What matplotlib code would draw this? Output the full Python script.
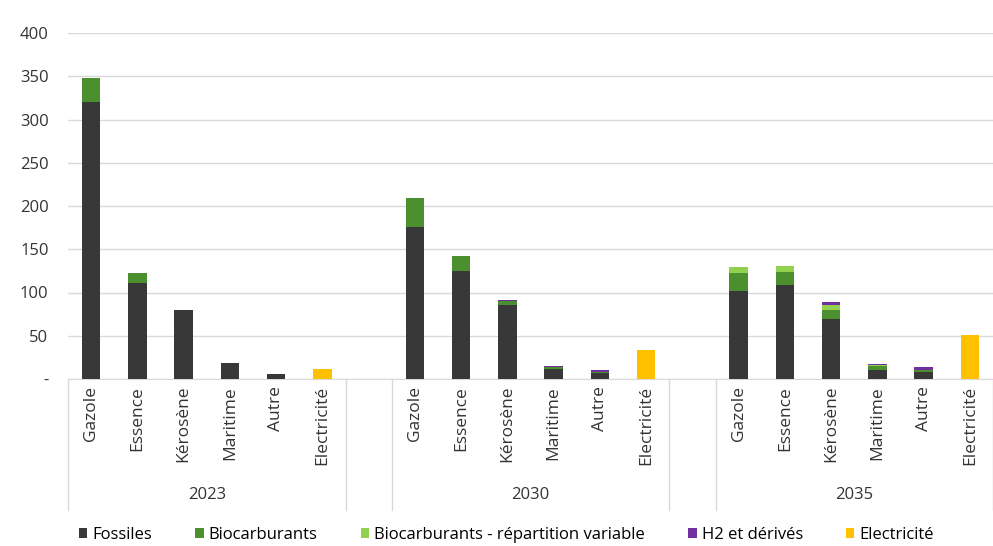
import matplotlib.pyplot as plt
import numpy as np

years = ["2023", "2030", "2035"]
categories = ["Gazole", "Essence", "Kérosène", "Maritime", "Autre", "Electricité"]

# values per year, in category order
fossiles = {"2023": [320, 111, 80, 18, 6, 0],
            "2030": [176, 125, 85, 12, 7, 0],
            "2035": [102, 109, 69, 10, 8, 0]}
biocarburants = {"2023": [28, 11, 0, 0, 0, 0],
                 "2030": [33, 17, 5, 2, 1, 0],
                 "2035": [20, 15, 11, 5, 2, 0]}
bio_variable = {"2023": [0, 0, 0, 0, 0, 0],
                "2030": [0, 0, 0, 0, 0, 0],
                "2035": [7, 7, 5, 1, 0, 0]}
h2 = {"2023": [0, 0, 0, 0, 0, 0],
      "2030": [0, 0, 1, 1, 2, 0],
      "2035": [0, 0, 4, 1, 4, 0]}
electricite = {"2023": [0, 0, 0, 0, 0, 12],
               "2030": [0, 0, 0, 0, 0, 33],
               "2035": [0, 0, 0, 0, 0, 51]}

series = [("Fossiles", fossiles, "#383838"),
          ("Biocarburants", biocarburants, "#4b8f2f"),
          ("Biocarburants - répartition variable", bio_variable, "#92d050"),
          ("H2 et dérivés", h2, "#7030a0"),
          ("Electricité", electricite, "#ffc000")]

plt.rcParams["font.family"] = ["Open Sans", "DejaVu Sans"]

fig = plt.figure(figsize=(9.93, 5.46), dpi=100)
ax = fig.add_axes([68 / 993, 167 / 546, 925 / 993, 346 / 546])

# slots: 6 categories per year with an empty slot between years
positions = []
for i, y in enumerate(years):
    positions.append(np.arange(6) + i * 7)

for name, data, color in series:
    first = True
    for i, y in enumerate(years):
        bottom = np.zeros(6)
        for prev_name, prev_data, _ in series:
            if prev_name == name:
                break
            bottom += np.array(prev_data[y])
        ax.bar(positions[i], data[y], bottom=bottom, width=0.4, color=color,
               label=name if first else None, zorder=3)
        first = False

ax.set_xlim(-0.5, 19.5)
ax.set_ylim(0, 400)
ax.set_yticks(range(0, 401, 50))
ax.set_yticklabels(["-"] + [str(v) for v in range(50, 401, 50)], fontsize=12, color="#333333")
ax.yaxis.grid(True, color="#d9d9d9", linewidth=1, zorder=0)
ax.tick_params(axis="y", length=0, pad=14)
ax.tick_params(axis="x", length=0, pad=5)

all_pos = np.concatenate(positions)
ax.set_xticks(all_pos)
ax.set_xticklabels(categories * 3, rotation=90, fontsize=12.5, color="#333333")

for side in ["top", "right", "left"]:
    ax.spines[side].set_visible(False)
ax.spines["bottom"].set_color("#d9d9d9")

# group separators and year labels
for b in [-0.5, 5.5, 6.5, 12.5, 13.5, 19.5]:
    ax.plot([b, b], [0, -0.38], color="#d9d9d9", linewidth=1,
            transform=ax.get_xaxis_transform(), clip_on=False)
for i, y in enumerate(years):
    ax.text(positions[i].mean(), -0.335, y, transform=ax.get_xaxis_transform(),
            ha="center", va="center", fontsize=12, color="#333333")

fig.legend(loc="center", bbox_to_anchor=(0.51, 0.02), ncol=5, frameon=False,
           fontsize=12, handlelength=0.5, handleheight=0.5, handletextpad=0.3,
           columnspacing=2.6)

fig.savefig("out.png", dpi=100)
